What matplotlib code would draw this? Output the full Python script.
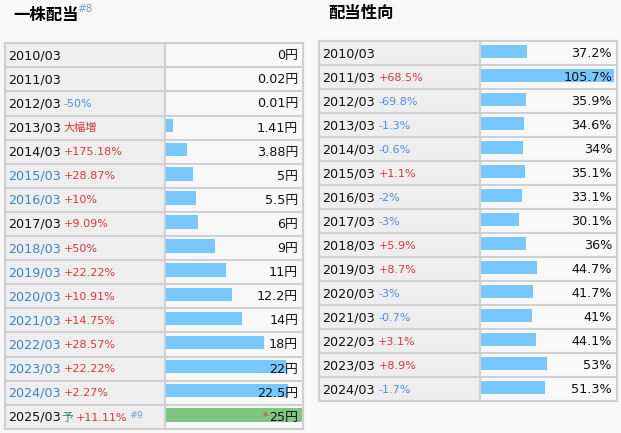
import matplotlib
matplotlib.use('Agg')
import matplotlib.pyplot as plt

plt.rcParams['font.family'] = ['DejaVu Sans', 'Noto Sans CJK JP']

# dividend per share table
dps_years = ['2010/03', '2011/03', '2012/03', '2013/03', '2014/03', '2015/03', '2016/03', '2017/03',
             '2018/03', '2019/03', '2020/03', '2021/03', '2022/03', '2023/03', '2024/03', '2025/03']
dps_values = [0, 0.02, 0.01, 1.41, 3.88, 5, 5.5, 6, 9, 11, 12.2, 14, 18, 22, 22.5, 25]
dps_changes = ['', '', '-50%', '大幅増', '+175.18%', '+28.87%', '+10%', '+9.09%', '+50%', '+22.22%',
               '+10.91%', '+14.75%', '+28.57%', '+22.22%', '+2.27%', '+11.11%']
dps_linked = [0, 0, 0, 0, 0, 1, 1, 0, 1, 1, 1, 1, 1, 1, 1, 0]

# payout ratio table
pay_years = ['2010/03', '2011/03', '2012/03', '2013/03', '2014/03', '2015/03', '2016/03', '2017/03',
             '2018/03', '2019/03', '2020/03', '2021/03', '2022/03', '2023/03', '2024/03']
pay_values = [37.2, 105.7, 35.9, 34.6, 34, 35.1, 33.1, 30.1, 36, 44.7, 41.7, 41, 44.1, 53, 51.3]
pay_changes = ['', '+68.5%', '-69.8%', '-1.3%', '-0.6%', '+1.1%', '-2%', '-3%', '+5.9%', '+8.7%',
               '-3%', '-0.7%', '+3.1%', '+8.9%', '-1.7%']

W, H = 621, 433
BG = '#f8f8f8'
CELL = '#eeeeee'
LINE = '#d0d0d0'
BAR = '#77c8ff'
RED = '#d8383f'
BLUE = '#4a8df0'
LINK = '#3a87cc'

fig = plt.figure(figsize=(W / 100, H / 100), dpi=100, facecolor=BG)


def px_axes(x, y, w, h):
    return fig.add_axes([x / W, 1 - (y + h) / H, w / W, h / H])


def table(x0, x1, xs, top, rh, years, values, changes, linked, xmax, unit):
    n = len(years)
    last = n == len(dps_years)
    ax = px_axes(x0, top, x1 - x0, rh * n)
    ax.set_xlim(x0, x1)
    ax.set_ylim(n, 0)
    ax.set_facecolor(BG)
    ax.axvspan(x0, xs, color=CELL, lw=0)
    for i in range(1, n):
        ax.axhline(i, color=LINE, lw=1.5)
    ax.axvline(xs, color=LINE, lw=1.5)
    for s in ax.spines.values():
        s.set_color(LINE)
        s.set_linewidth(1.5)
    ax.set_xticks([])
    ax.set_yticks([])

    bx = px_axes(xs + 1, top, x1 - xs - 2, rh * n)
    bx.set_xlim(0, xmax)
    bx.set_ylim(n, 0)
    bx.patch.set_visible(False)
    bx.axis('off')
    cols = [BAR] * n
    if last:
        cols[-1] = '#80c680'
    bx.barh([i + 0.42 for i in range(n)], values, height=0.56, color=cols, zorder=1)

    for i, yr in enumerate(years):
        t = bx.text(-(xs + 1 - x0 - 3) / (x1 - xs - 2) * xmax, i + 0.52, yr, fontsize=9.2,
                    va='center', ha='left', color=LINK if linked[i] else '#111111', zorder=3)
        ch = changes[i]
        prev = t
        if last and i == n - 1:
            prev = bx.annotate('予', xy=(1, 0.5), xycoords=t, xytext=(0.5, -0.5), textcoords='offset points',
                               fontsize=8.5, color='#2e8b57', va='center', ha='left')
        if ch:
            c = BLUE if ch.startswith('-') else RED
            prev = bx.annotate(ch, xy=(1, 0.5), xycoords=prev, xytext=(2.2, 0), textcoords='offset points',
                               fontsize=8, color=c, va='center', ha='left')
        if last and i == n - 1:
            bx.annotate('#9', xy=(1, 1), xycoords=prev, xytext=(1, -2), textcoords='offset points',
                        fontsize=6.8, color='#6f9fd8', va='center', ha='left')
        v = bx.text(xmax - 4 / (x1 - xs - 2) * xmax, i + 0.52, f'{values[i]:g}{unit}', fontsize=9.2,
                    va='center', ha='right', color='#111111', zorder=3)
        if last and i == n - 1:
            bx.annotate('*', xy=(0, 0.5), xycoords=v, xytext=(-0.5, 0), textcoords='offset points',
                        fontsize=8, color=RED, va='center', ha='right')


table(5, 303, 164.5, 43.2, 24.1, dps_years, dps_values, dps_changes, dps_linked, 25, '円')
table(319.5, 617, 479.5, 41.3, 24.0, pay_years, pay_values, pay_changes, [0] * len(pay_years), 107.3, '%')

fig.text(13 / W, 1 - 15 / H, '一株配当', fontsize=11.8, fontweight='bold', va='center', ha='left')
fig.text(77 / W, 1 - 8.5 / H, '#8', fontsize=7.5, color='#6f9fd8', va='center', ha='left')
fig.text(328 / W, 1 - 13.5 / H, '配当性向', fontsize=11.8, fontweight='bold', va='center', ha='left')

fig.savefig('out.png', dpi=100, facecolor=BG)
